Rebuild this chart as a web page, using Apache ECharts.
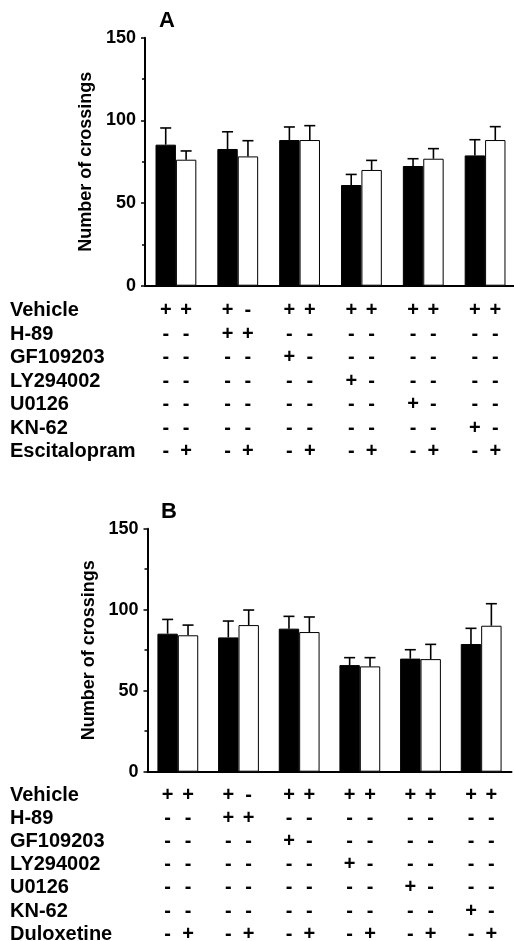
<!DOCTYPE html>
<html>
<head>
<meta charset="utf-8">
<script src="https://cdn.jsdelivr.net/npm/echarts@6/dist/echarts.min.js"></script>
<style>
  html, body { margin: 0; padding: 0; background: #fff; }
  #chart { width: 514px; height: 941px; }
</style>
</head>
<body>
<div id="chart"></div>
<script>
// groups along the x axis
const groups = ["1", "2", "3", "4", "5", "6"];

// panel A: mean and mean+SEM (black = without escitalopram, white = with)
const meanA_black = [85.3, 82.7, 88.1, 60.9, 72.4, 78.8];
const errA_black = [95.4, 93.1, 96.0, 67.3, 76.8, 88.3];
const meanA_white = [76.2, 78.2, 88.1, 70.0, 76.8, 88.1];
const errA_white = [81.5, 87.7, 96.8, 75.8, 82.9, 96.2];

// panel B: duloxetine
const meanB_black = [85.2, 82.9, 88.3, 65.8, 69.8, 78.8];
const errB_black = [94.0, 93.0, 95.9, 70.4, 75.3, 88.5];
const meanB_white = [84.2, 90.5, 86.2, 65.0, 69.5, 90.1];
const errB_white = [90.5, 99.8, 95.5, 70.4, 78.6, 103.7];

const yTicks = [0, 50, 100, 150];

const rowsA = ["Vehicle", "H-89", "GF109203", "LY294002", "U0126", "KN-62", "Escitalopram"];
const rowsB = ["Vehicle", "H-89", "GF109203", "LY294002", "U0126", "KN-62", "Duloxetine"];

// treatment table, 12 columns (2 per group)
const signsA = [
  ["+", "+", "+", "-", "+", "+", "+", "+", "+", "+", "+", "+"],
  ["-", "-", "+", "+", "-", "-", "-", "-", "-", "-", "-", "-"],
  ["-", "-", "-", "-", "+", "-", "-", "-", "-", "-", "-", "-"],
  ["-", "-", "-", "-", "-", "-", "+", "-", "-", "-", "-", "-"],
  ["-", "-", "-", "-", "-", "-", "-", "-", "+", "-", "-", "-"],
  ["-", "-", "-", "-", "-", "-", "-", "-", "-", "-", "+", "-"],
  ["-", "+", "-", "+", "-", "+", "-", "+", "-", "+", "-", "+"]
];
const signsB = [
  ["+", "+", "+", "-", "+", "+", "+", "+", "+", "+", "+", "+"],
  ["-", "-", "+", "+", "-", "-", "-", "-", "-", "-", "-", "-"],
  ["-", "-", "-", "-", "+", "-", "-", "-", "-", "-", "-", "-"],
  ["-", "-", "-", "-", "-", "-", "+", "-", "-", "-", "-", "-"],
  ["-", "-", "-", "-", "-", "-", "-", "-", "+", "-", "-", "-"],
  ["-", "-", "-", "-", "-", "-", "-", "-", "-", "-", "+", "-"],
  ["-", "+", "-", "+", "-", "+", "-", "+", "-", "+", "-", "+"]
];

const FONT = "Liberation Sans, Arial, Helvetica, sans-serif";
const barW = 20.4;

const chartDom = document.getElementById("chart");
const myChart = echarts.init(chartDom, null, { renderer: "canvas" });

// upper error bar for one series (slot 0 = left bar, 1 = right bar)
function errorSeries(gridIdx, means, errs, slot) {
  return {
    type: "custom",
    xAxisIndex: gridIdx,
    yAxisIndex: gridIdx,
    z: 1,
    data: means.map((m, i) => [i, m, errs[i]]),
    renderItem: function (params, api) {
      const off = (slot === 0 ? -1 : 1) * barW / 2;
      const base = api.coord([api.value(0), api.value(1)]);
      const top = api.coord([api.value(0), api.value(2)]);
      const x = base[0] + off;
      return {
        type: "group",
        children: [
          { type: "line", shape: { x1: x, y1: base[1], x2: x, y2: top[1] }, style: { stroke: "#000", lineWidth: 1.6 } },
          { type: "line", shape: { x1: x - 5.5, y1: top[1], x2: x + 5.5, y2: top[1] }, style: { stroke: "#000", lineWidth: 1.6 } }
        ]
      };
    }
  };
}

// +/- marks under the bars
function tableSeries(gridIdx, signs) {
  const cells = [];
  signs.forEach((row, r) => {
    row.forEach((s, c) => {
      cells.push({ value: [Math.floor(c / 2), r, c % 2], sym: s });
    });
  });
  return {
    type: "custom",
    xAxisIndex: gridIdx,
    yAxisIndex: gridIdx,
    data: cells,
    renderItem: function (params, api) {
      const p = api.coord([api.value(0), api.value(1)]);
      const off = (api.value(2) === 0 ? -1 : 1) * barW / 2;
      return {
        type: "text",
        x: p[0] + off,
        y: p[1],
        style: {
          text: cells[params.dataIndex].sym,
          fill: "#000",
          font: "bold 20px " + FONT,
          align: "center",
          verticalAlign: "middle"
        }
      };
    }
  };
}

function barAxisY(gridIdx) {
  return {
    type: "value",
    gridIndex: gridIdx,
    min: yTicks[0],
    max: yTicks[yTicks.length - 1],
    interval: 50,
    name: "Number of crossings",
    nameLocation: "middle",
    nameGap: 46,
    nameTextStyle: { color: "#000", fontSize: 18, fontWeight: "bold", fontFamily: FONT },
    axisLine: { show: true, lineStyle: { color: "#000", width: 2 } },
    axisTick: { show: true, length: 4, lineStyle: { color: "#000", width: 1.5 } },
    minorTick: { show: true, splitNumber: 2, length: 3, lineStyle: { color: "#000", width: 1.5 } },
    splitLine: { show: false },
    axisLabel: { color: "#000", fontSize: 18, fontWeight: "bold", fontFamily: FONT, margin: 9 }
  };
}

function tableAxisY(gridIdx, rows, margin) {
  return {
    type: "category",
    gridIndex: gridIdx,
    data: rows,
    inverse: true,
    axisLine: { show: false },
    axisTick: { show: false },
    axisLabel: { interval: 0, color: "#000", fontSize: 20, fontWeight: "bold", fontFamily: FONT, align: "left", margin: margin }
  };
}

function catAxisX(gridIdx, showLine) {
  return {
    type: "category",
    gridIndex: gridIdx,
    data: groups,
    axisLine: { show: showLine, onZero: false, lineStyle: { color: "#000", width: 2 } },
    axisTick: { show: false },
    axisLabel: { show: false }
  };
}

function barSeries(gridIdx, data, color) {
  return {
    type: "bar",
    xAxisIndex: gridIdx,
    yAxisIndex: gridIdx,
    data: data,
    barWidth: barW,
    barGap: "0%",
    z: 2,
    itemStyle: { color: color, borderColor: "#000", borderWidth: 1 }
  };
}

const option = {
  backgroundColor: "#fff",
  animation: false,
  textStyle: { fontFamily: FONT },
  title: [
    { text: "A", left: 159, top: 10, padding: 0, textStyle: { fontSize: 22, fontWeight: "bold", color: "#000", fontFamily: FONT } },
    { text: "B", left: 161, top: 501, padding: 0, textStyle: { fontSize: 22, fontWeight: "bold", color: "#000", fontFamily: FONT } }
  ],
  grid: [
    { left: 145, top: 37.7, width: 371, height: 248, outerBoundsMode: "none" },
    { left: 145, top: 299, width: 371, height: 164.5, outerBoundsMode: "none" },
    { left: 147.5, top: 528.7, width: 364, height: 243, outerBoundsMode: "none" },
    { left: 147.5, top: 783.4, width: 364, height: 162.4, outerBoundsMode: "none" }
  ],
  xAxis: [catAxisX(0, true), catAxisX(1, false), catAxisX(2, true), catAxisX(3, false)],
  yAxis: [barAxisY(0), tableAxisY(1, rowsA, 135), barAxisY(2), tableAxisY(3, rowsB, 137.5)],
  series: [
    barSeries(0, meanA_black, "#000"),
    barSeries(0, meanA_white, "#fff"),
    errorSeries(0, meanA_black, errA_black, 0),
    errorSeries(0, meanA_white, errA_white, 1),
    tableSeries(1, signsA),
    barSeries(2, meanB_black, "#000"),
    barSeries(2, meanB_white, "#fff"),
    errorSeries(2, meanB_black, errB_black, 0),
    errorSeries(2, meanB_white, errB_white, 1),
    tableSeries(3, signsB)
  ]
};

myChart.setOption(option);
</script>
</body>
</html>
